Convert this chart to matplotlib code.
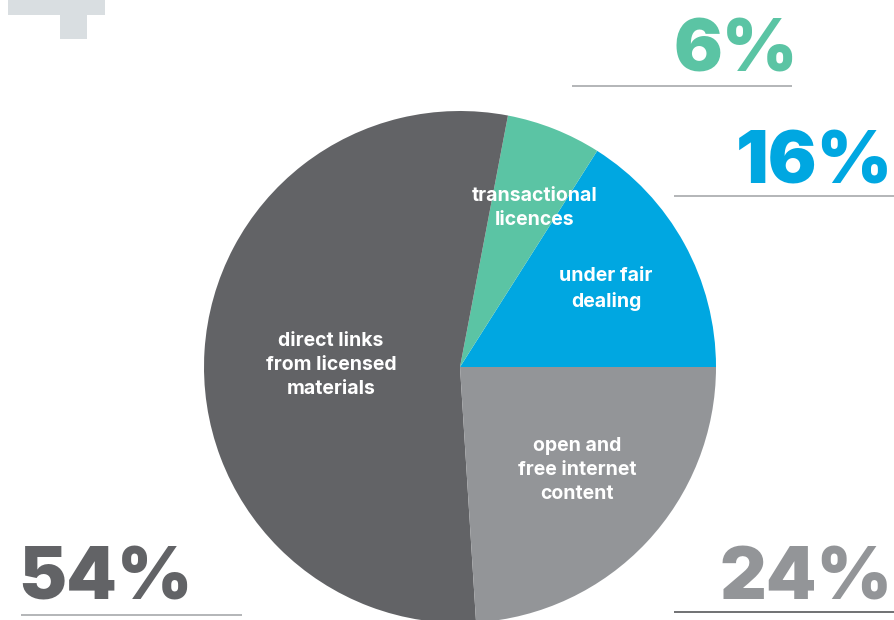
import matplotlib.pyplot as plt

# slices, counter-clockwise from 3 o'clock
labels = ["under fair\ndealing", "transactional\nlicences",
          "direct links\nfrom licensed\nmaterials", "open and\nfree internet\ncontent"]
shares = [16, 6, 54, 24]
colors = ["#00A7E1", "#5BC4A4", "#626366", "#939598"]

W, H = 894, 620
fig = plt.figure(figsize=(W / 100, H / 100), dpi=100)
ax = fig.add_axes([0, 0, 1, 1])

cx, cy, r = 460, H - 367, 256
ax.pie(shares, colors=colors, startangle=0, counterclock=True,
       center=(cx, cy), radius=r, wedgeprops=dict(linewidth=0))
ax.set_xlim(0, W)
ax.set_ylim(0, H)
ax.set_aspect("equal")
ax.axis("off")

font = "Inter"

# labels inside slices
inner_pos = [(606, 289), (535, 208), (331, 365), (577, 470)]
for lab, (x, y) in zip(labels, inner_pos):
    ax.text(x, H - y, lab, color="white", fontsize=14, fontweight="bold",
            family=font, ha="center", va="center", linespacing=1.45)

# big percentage callouts with rule underneath
callouts = [
    # idx, text x, text baseline y, ha, rule x0, x1, rule y, rule colour
    (1, 798, 72, "right", 572, 792, 86, "#A7A9AC"),
    (0, 893, 183, "right", 674, 894, 196, "#A7A9AC"),
    (2, 18, 600, "left", 21, 242, 615, "#A7A9AC"),
    (3, 893, 600, "right", 674, 894, 612, "#58595B"),
]
for i, tx, ty, ha, x0, x1, ly, lc in callouts:
    ax.text(tx, H - ty, f"{shares[i]}%", color=colors[i], fontsize=52,
            fontweight=900, family=font, ha=ha, va="baseline")
    ax.plot([x0, x1], [H - ly, H - ly], color=lc, linewidth=1.2,
            solid_capstyle="butt")

# decorative grey block in the top-left corner
ax.add_patch(plt.Rectangle((8, H - 15), 97, 15, color="#D9DEE1", lw=0))
ax.add_patch(plt.Rectangle((60, H - 39), 27, 24, color="#D9DEE1", lw=0))

fig.savefig("out.png", dpi=100)
